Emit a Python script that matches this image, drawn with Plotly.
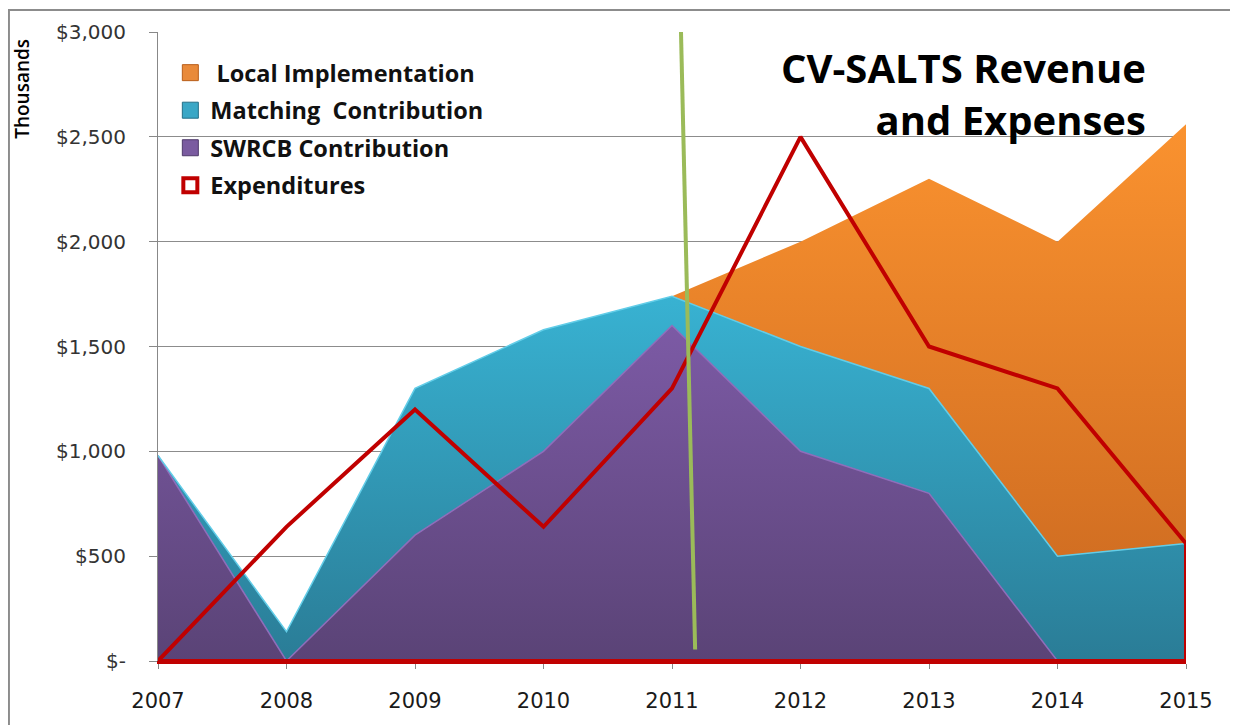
import plotly.graph_objects as go

# ---- data (values in thousands of dollars) ----
years = [2007, 2008, 2009, 2010, 2011, 2012, 2013, 2014, 2015]
swrcb = [980, 0, 600, 1000, 1600, 1000, 800, 0, 0]
matching = [0, 140, 700, 580, 140, 500, 500, 500, 560]
local = [0, 0, 0, 0, 0, 500, 1000, 1500, 2000]
expenditures = [0, 640, 1200, 640, 1300, 2500, 1500, 1300, 560]

divider_x = [2011.07, 2011.18]
divider_y = [3000, 55]

y_tickvals = [0, 500, 1000, 1500, 2000, 2500, 3000]
y_ticktext = ["$-", "$500", "$1,000", "$1,500", "$2,000", "$2,500", "$3,000"]

legend_names = ["\u00a0Local Implementation", "Matching\u00a0 Contribution", "SWRCB Contribution", "Expenditures"]
title_text = "CV-SALTS Revenue<br>and Expenses"
yaxis_label = "Thousands"

# ---- styles ----
PURPLE_D, PURPLE_L, PURPLE_E = "#5A4376", "#7C5AA5", "#8F6DBA"
TEAL_D, TEAL_L, TEAL_E = "#2A7C96", "#38B2D2", "#62CDE8"
ORANGE_D, ORANGE_L = "#C8661F", "#FA922F"
RED = "#C00000"
GREEN = "#9BBB59"
TXT = "'Open Sans', sans-serif"
TICK = "'DejaVu Sans', sans-serif"

top_total = [s + m + l for s, m, l in zip(swrcb, matching, local)]
stack_sm = [s + m for s, m in zip(swrcb, matching)]

fig = go.Figure()

fig.add_trace(go.Scatter(
    x=years, y=swrcb, stackgroup="rev", mode="lines",
    line=dict(color=PURPLE_E, width=1.5),
    fillgradient=dict(type="vertical", colorscale=[[0, PURPLE_D], [1, PURPLE_L]],
                      start=0, stop=max(swrcb)),
    showlegend=False, hoverinfo="skip"))
fig.add_trace(go.Scatter(
    x=years, y=matching, stackgroup="rev", mode="lines",
    line=dict(color=TEAL_E, width=1.5),
    fillgradient=dict(type="vertical", colorscale=[[0, TEAL_D], [1, TEAL_L]],
                      start=0, stop=max(stack_sm)),
    showlegend=False, hoverinfo="skip"))
fig.add_trace(go.Scatter(
    x=years, y=local, stackgroup="rev", mode="lines",
    line=dict(color=ORANGE_L, width=0),
    fillgradient=dict(type="vertical", colorscale=[[0, ORANGE_D], [1, ORANGE_L]],
                      start=0, stop=max(top_total)),
    showlegend=False, hoverinfo="skip"))

# expenditures drawn as an unfilled area (outline down to baseline)
exp_x = years + [years[-1], years[0]]
exp_y = expenditures + [0, 0]
fig.add_trace(go.Scatter(
    x=exp_x, y=exp_y, mode="lines",
    line=dict(color=RED, width=4),
    showlegend=False, hoverinfo="skip"))

# green divider
fig.add_trace(go.Scatter(
    x=divider_x, y=divider_y, mode="lines",
    line=dict(color=GREEN, width=4),
    showlegend=False, hoverinfo="skip"))

# legend entries
leg_styles = [
    dict(symbol="square", size=16, color="#E98A3A", line=dict(color="#B85E1A", width=1)),
    dict(symbol="square", size=16, color="#3AA7C6", line=dict(color="#236F87", width=1)),
    dict(symbol="square", size=16, color="#7A5BA0", line=dict(color="#4F3A6A", width=1)),
    dict(symbol="square-open", size=14, color=RED, line=dict(color=RED, width=4)),
]
for i, (name, mk) in enumerate(zip(legend_names, leg_styles)):
    fig.add_trace(go.Scatter(
        x=[None], y=[None], mode="markers", name=name, marker=mk,
        legendgroup=f"g{i}", legendrank=i + 1))

fig.update_layout(
    width=1230, height=717,
    margin=dict(l=150, r=52, t=23, b=63),
    paper_bgcolor="white", plot_bgcolor="white",
    font=dict(family=TXT, color="#262626"),
    showlegend=True,
    legend=dict(
        x=0.012, y=0.97, xanchor="left", yanchor="top",
        bgcolor="rgba(0,0,0,0)",
        font=dict(size=23.5, color="#111111", family=TXT, weight="bold"),
        tracegroupgap=4),
    xaxis=dict(
        range=[years[0], years[-1]], tickvals=years, ticktext=[str(y) for y in years],
        showgrid=False, zeroline=False, showline=True, linecolor=RED, linewidth=3,
        ticks="outside", ticklen=5, tickcolor="#888888", ticklabelstandoff=14,
        tickfont=dict(size=21, family=TICK, color="#1a1a1a")),
    yaxis=dict(
        range=[0, 3000], tickvals=y_tickvals, ticktext=y_ticktext,
        showgrid=True, gridcolor="#8C8C8C", gridwidth=1, zeroline=False,
        showline=True, linecolor="#888888", linewidth=1,
        ticks="outside", ticklen=8, tickcolor="#888888", ticklabelstandoff=19,
        tickfont=dict(size=20, family=TICK, color="#333333")),
    annotations=[
        dict(text=title_text, xref="paper", yref="paper", x=0.963, y=0.99,
             xanchor="right", yanchor="top", align="right", showarrow=False,
             font=dict(size=40, family=TXT, color="black", weight="bold")),
        dict(text=yaxis_label, xref="paper", yref="paper", x=-0.1323, y=0.9097,
             xanchor="center", yanchor="middle", textangle=-90, showarrow=False,
             font=dict(size=19, family=TXT, color="black", weight=600)),
    ],
    shapes=[
        dict(type="rect", xref="paper", yref="paper", x0=-0.145, x1=1.0467, y0=-0.108, y1=1.0349,
             line=dict(color="#8C8C8C", width=2), layer="below"),
    ],
)

fig.write_html("out.html")
